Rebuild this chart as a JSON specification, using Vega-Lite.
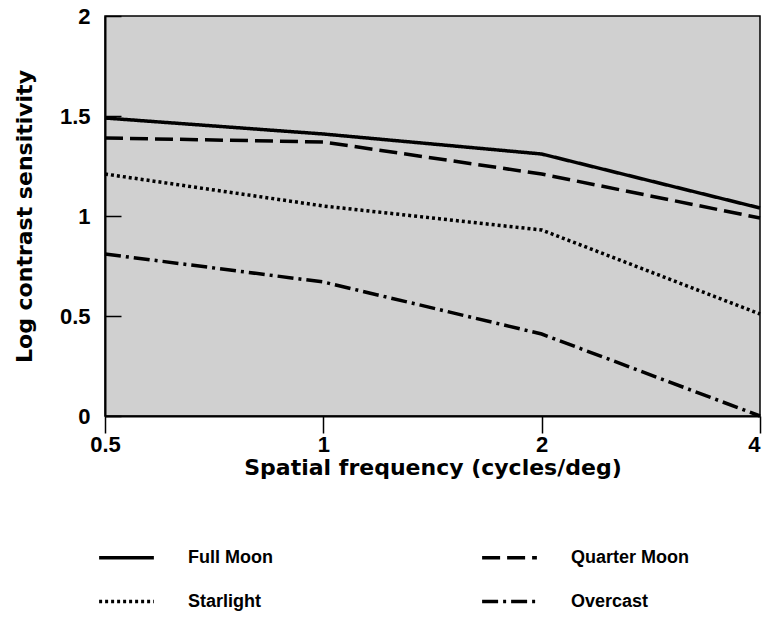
{
  "$schema": "https://vega.github.io/schema/vega-lite/v6.json",
  "width": 655,
  "height": 400,
  "autosize": {"type": "none"},
  "padding": {"left": 105, "top": 16, "right": 2, "bottom": 225},
  "background": "white",
  "config": {
    "font": "Liberation Sans",
    "view": {"fill": "#d0d0d0", "stroke": "black", "strokeWidth": 1.5},
    "axis": {"grid": false, "domainColor": "black", "domainWidth": 2, "tickColor": "black", "tickWidth": 1.5,
      "labelFont": "Liberation Sans", "labelFontSize": 22, "labelFontWeight": "bold", "labelColor": "black",
      "titleFont": "DejaVu Sans", "titleFontSize": 22, "titleFontWeight": "bold", "titleColor": "black"}
  },
  "data": {"values": [
    {"f": 0.5, "s": 1.49, "cond": "Full Moon"},
    {"f": 1, "s": 1.41, "cond": "Full Moon"},
    {"f": 2, "s": 1.31, "cond": "Full Moon"},
    {"f": 4, "s": 1.04, "cond": "Full Moon"},
    {"f": 0.5, "s": 1.39, "cond": "Quarter Moon"},
    {"f": 1, "s": 1.37, "cond": "Quarter Moon"},
    {"f": 2, "s": 1.21, "cond": "Quarter Moon"},
    {"f": 4, "s": 0.99, "cond": "Quarter Moon"},
    {"f": 0.5, "s": 1.21, "cond": "Starlight"},
    {"f": 1, "s": 1.05, "cond": "Starlight"},
    {"f": 2, "s": 0.93, "cond": "Starlight"},
    {"f": 4, "s": 0.51, "cond": "Starlight"},
    {"f": 0.5, "s": 0.81, "cond": "Overcast"},
    {"f": 1, "s": 0.67, "cond": "Overcast"},
    {"f": 2, "s": 0.41, "cond": "Overcast"},
    {"f": 4, "s": 0.0, "cond": "Overcast"}
  ]},
  "mark": {"type": "line", "color": "black", "strokeWidth": 3.5, "clip": false},
  "encoding": {
    "x": {"field": "f", "type": "quantitative",
      "scale": {"type": "log", "domain": [0.5, 4], "nice": false},
      "axis": {"values": [0.5, 1, 2, 4], "format": "~g", "tickSize": 17, "labelPadding": 1, "labelFlush": false,
        "labelAlign": {"condition": {"test": "datum.value >= 4", "value": "right"}, "value": "center"},
        "title": "Spatial frequency (cycles/deg)", "titlePadding": 2}},
    "y": {"field": "s", "type": "quantitative",
      "scale": {"domain": [0, 2], "nice": false},
      "axis": {"values": [0, 0.5, 1, 1.5, 2], "format": "~g", "tickSize": -16, "labelPadding": 31,
        "title": "Log contrast sensitivity", "titlePadding": 23}},
    "strokeDash": {"field": "cond", "type": "nominal",
      "scale": {"domain": ["Full Moon", "Starlight", "Quarter Moon", "Overcast"],
        "range": [[1, 0], [3, 3], [18, 7], [16, 5, 3, 5]]},
      "legend": {"title": null, "orient": "none", "legendX": -8, "legendY": 512, "columns": 2,
        "symbolType": "stroke", "symbolSize": 3000, "symbolStrokeWidth": 3.5, "symbolStrokeColor": "black",
        "labelFont": "Liberation Sans", "labelFontSize": 18, "labelFontWeight": "bold", "labelColor": "black",
        "labelOffset": 32, "rowPadding": 5, "columnPadding": 202, "labelLimit": 300}}
  }
}
